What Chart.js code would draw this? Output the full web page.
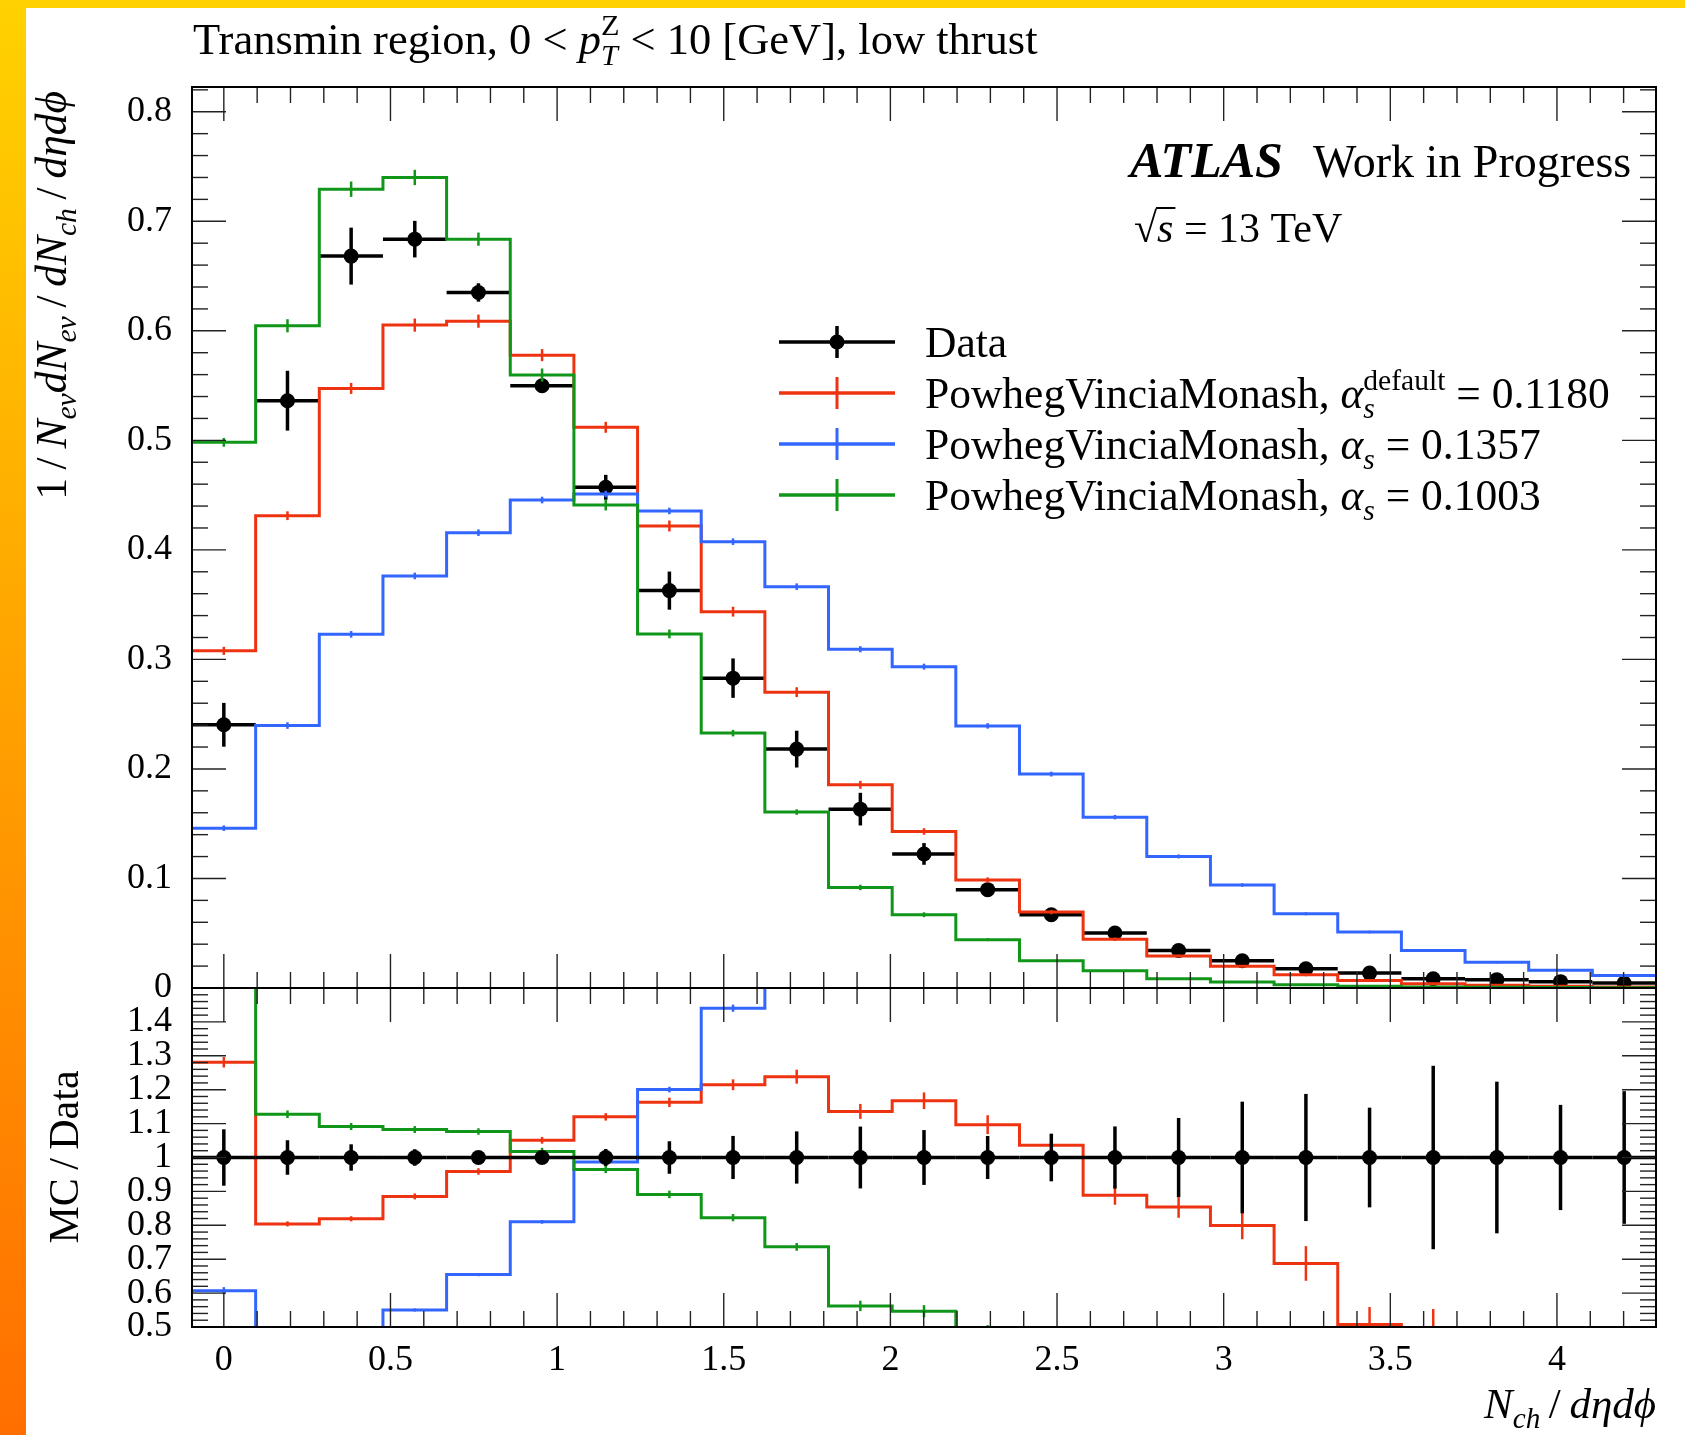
<!DOCTYPE html>
<html>
<head>
<meta charset="utf-8">
<title>Transmin region, low thrust</title>
<script src="https://cdn.jsdelivr.net/npm/chart.js@4.4.1/dist/chart.umd.min.js"></script>
<style>
  html, body { margin: 0; padding: 0; background: #fff; }
  #page { position: relative; width: 1685px; height: 1435px; overflow: hidden; background: #fff; }
  #topBand { position: absolute; left: 0; top: 0; width: 1685px; height: 8px; background: #ffd200; }
  #sideBand { position: absolute; left: 0; top: 0; width: 26px; height: 1435px; background: linear-gradient(to bottom, #ffd200, #ff6f00); }
  #page canvas { position: absolute; left: 0; top: 0; }
</style>
</head>
<body>
<div id="page">
  <div id="topBand"></div>
  <div id="sideBand"></div>
  <canvas id="mainChart" width="1685" height="1435"></canvas>
  <canvas id="ratioChart" width="1685" height="1435"></canvas>
</div>
<script>
const FONT = '"Liberation Serif", "Times New Roman", serif';

// N_ch / (d eta d phi) in the trans-min region: one bin per 2 charged particles, area 5*pi/3
const binWidth = 3 / (5 * Math.PI);
const binEdges = Array.from({ length: 24 }, (_, i) => (i - 0.5) * binWidth);
const binCenters = Array.from({ length: 23 }, (_, i) => i * binWidth);

const dataVals = [0.2403, 0.5362, 0.6682, 0.6837, 0.6350, 0.5499, 0.4571, 0.3628, 0.2829, 0.2181, 0.1633, 0.1224,
  0.0898, 0.0669, 0.0502, 0.0343, 0.0249, 0.0176, 0.0136, 0.0085, 0.0076, 0.0058, 0.0046];
const dataErr = [0.0200, 0.0273, 0.0260, 0.0167, 0.0084, 0.0050, 0.0114, 0.0174, 0.0180, 0.0168, 0.0149, 0.0099,
  0.0057, 0.0047, 0.0046, 0.0040, 0.0041, 0.0033, 0.0020, 0.0023, 0.0017, 0.0009, 0.0009];

// PowhegVinciaMonash, alpha_s default = 0.1180
const redVals = [0.3078, 0.4312, 0.5474, 0.6052, 0.6088, 0.5778, 0.5119, 0.4218, 0.3436, 0.2701, 0.1855, 0.1429,
  0.0985, 0.0693, 0.0446, 0.0293, 0.0199, 0.0121, 0.0069, 0.0039, 0.0025, 0.0017, 0.0010];
const redErr = [0.0037, 0.0040, 0.0050, 0.0060, 0.0060, 0.0055, 0.0050, 0.0050, 0.0045, 0.0045, 0.0036, 0.0030,
  0.0025, 0.0020, 0.0014, 0.0011, 0.0010, 0.0009, 0.0007, 0.0008, 0.0005, 0.0004, 0.0003];

// alpha_s = 0.1357
const blueVals = [0.1459, 0.2396, 0.3229, 0.3762, 0.4157, 0.4455, 0.4510, 0.4355, 0.4075, 0.3664, 0.3093, 0.2934,
  0.2393, 0.1953, 0.1560, 0.1201, 0.0940, 0.0678, 0.0511, 0.0343, 0.0234, 0.0161, 0.0115];
const blueErr = [0.0025, 0.0030, 0.0030, 0.0030, 0.0030, 0.0030, 0.0030, 0.0030, 0.0030, 0.0030, 0.0028, 0.0027,
  0.0025, 0.0022, 0.0020, 0.0018, 0.0016, 0.0014, 0.0012, 0.0010, 0.0009, 0.0008, 0.0007];

// alpha_s = 0.1003
const greenVals = [0.4982, 0.6046, 0.7293, 0.7400, 0.6837, 0.5596, 0.4410, 0.3233, 0.2327, 0.1606, 0.0918, 0.0669,
  0.0441, 0.0249, 0.0158, 0.0085, 0.0055, 0.0030, 0.0015, 0.0010, 0.0007, 0.0005, 0.0003];
const greenErr = [0.0040, 0.0060, 0.0070, 0.0070, 0.0060, 0.0060, 0.0050, 0.0040, 0.0030, 0.0025, 0.0025, 0.0022,
  0.0013, 0.0008, 0.0006, 0.0004, 0.0003, 0.0002, 0.0002, 0.0001, 0.0001, 0.0001, 0.0001];

const alphaLabels = ['0.1180', '0.1357', '0.1003'];

const RED = '#ee3311';
const BLUE = '#3366ff';
const GREEN = '#109618';

// pixel frame of the two panels
const FRAME = { left: 192, right: 1656, top: 87, mid: 988, bottom: 1327 };
const PAGE_W = 1685;
const PAGE_H = 1435;

const mcSeries = [
  { vals: greenVals, errs: greenErr, color: GREEN },
  { vals: blueVals, errs: blueErr, color: BLUE },
  { vals: redVals, errs: redErr, color: RED }
];

function stepPoints(vals) {
  const pts = vals.map((v, i) => ({ x: binEdges[i], y: v }));
  pts.push({ x: binEdges[vals.length], y: vals[vals.length - 1] });
  return pts;
}

function histDataset(vals, color) {
  return {
    data: stepPoints(vals),
    borderColor: color,
    borderWidth: 3,
    stepped: 'before',
    pointRadius: 0,
    fill: false,
    clip: 0
  };
}

function toRatio(vals) {
  return vals.map((v, i) => v / dataVals[i]);
}

function line(ctx, x1, y1, x2, y2) {
  ctx.beginPath();
  ctx.moveTo(x1, y1);
  ctx.lineTo(x2, y2);
  ctx.stroke();
}

function clipToArea(ctx, a) {
  ctx.beginPath();
  ctx.rect(a.left, a.top, a.right - a.left, a.bottom - a.top);
  ctx.clip();
}

// ---- rich text (italics, sub/superscripts) ----
function fontStr(p, size) {
  return (p.i ? 'italic ' : '') + (p.b ? 'bold ' : '') + size.toFixed(1) + 'px ' + FONT;
}

function layoutRich(ctx, parts, size) {
  const ops = [];
  let x = 0;
  parts.forEach(p => {
    if (p.stack) {
      const s = size * 0.68;
      let w = 0;
      p.stack.forEach((q, k) => {
        ctx.font = fontStr(q, s);
        ops.push({ t: q.t, font: ctx.font, x, dy: k === 0 ? -size * 0.42 : size * 0.24 });
        w = Math.max(w, ctx.measureText(q.t).width);
      });
      x += w;
    } else {
      const s = p.pos ? size * 0.68 : size;
      const dy = p.pos === 'sub' ? size * 0.24 : p.pos === 'sup' ? -size * 0.42 : 0;
      ctx.font = fontStr(p, s);
      ops.push({ t: p.t, font: ctx.font, x, dy });
      x += ctx.measureText(p.t).width;
    }
  });
  return { ops, width: x };
}

function drawRich(ctx, parts, x, y, size, align) {
  const { ops, width } = layoutRich(ctx, parts, size);
  const x0 = align === 'right' ? x - width : align === 'center' ? x - width / 2 : x;
  ctx.textAlign = 'left';
  ctx.textBaseline = 'alphabetic';
  ops.forEach(o => {
    ctx.font = o.font;
    ctx.fillText(o.t, x0 + o.x, y + o.dy);
  });
  return width;
}

// ---- inward ticks on all four sides, plus the frame ----
function frameTicks(yStep, yMajorEvery) {
  return {
    id: 'frameTicks',
    afterDraw(chart) {
      const { ctx, chartArea: a, scales } = chart;
      ctx.save();
      ctx.strokeStyle = '#222';
      ctx.lineWidth = 1.4;
      const xs = scales.x;
      for (let i = Math.ceil(xs.min / 0.1 - 1e-6); i * 0.1 <= xs.max + 1e-6; i++) {
        const px = xs.getPixelForValue(i * 0.1);
        const len = i % 5 === 0 ? 34 : 16;
        line(ctx, px, a.top, px, a.top + len);
        line(ctx, px, a.bottom, px, a.bottom - len);
      }
      const ys = scales.y;
      for (let i = Math.ceil(ys.min / yStep - 1e-6); i * yStep <= ys.max + 1e-6; i++) {
        const py = ys.getPixelForValue(i * yStep);
        const len = i % yMajorEvery === 0 ? 34 : 16;
        line(ctx, a.left, py, a.left + len, py);
        line(ctx, a.right, py, a.right - len, py);
      }
      ctx.strokeStyle = '#000';
      ctx.lineWidth = 2;
      ctx.strokeRect(a.left, a.top, a.right - a.left, a.bottom - a.top);
      ctx.restore();
    }
  };
}

function drawDataPoint(ctx, x1, x2, xc, y, yLo, yHi) {
  line(ctx, x1, y, x2, y);
  line(ctx, xc, yLo, xc, yHi);
  ctx.beginPath();
  ctx.arc(xc, y, 7.5, 0, Math.PI * 2);
  ctx.fill();
}

// data drawn under the MC histograms in the main panel, MC error ticks on top
const mainMarks = {
  id: 'mainMarks',
  beforeDatasetsDraw(chart) {
    const { ctx, chartArea, scales: { x, y } } = chart;
    ctx.save();
    clipToArea(ctx, chartArea);
    ctx.strokeStyle = '#000';
    ctx.fillStyle = '#000';
    ctx.lineWidth = 3.5;
    dataVals.forEach((v, i) => {
      drawDataPoint(ctx, x.getPixelForValue(binEdges[i]), x.getPixelForValue(binEdges[i + 1]),
        x.getPixelForValue(binCenters[i]), y.getPixelForValue(v),
        y.getPixelForValue(v - dataErr[i]), y.getPixelForValue(v + dataErr[i]));
    });
    ctx.restore();
  },
  afterDatasetsDraw(chart) {
    const { ctx, chartArea, scales: { x, y } } = chart;
    ctx.save();
    clipToArea(ctx, chartArea);
    ctx.lineWidth = 2.5;
    mcSeries.slice().reverse().forEach(s => {
      ctx.strokeStyle = s.color;
      s.vals.forEach((v, i) => {
        const px = x.getPixelForValue(binCenters[i]);
        line(ctx, px, y.getPixelForValue(v - s.errs[i]), px, y.getPixelForValue(v + s.errs[i]));
      });
    });
    ctx.restore();
  }
};

const ratioMarks = {
  id: 'ratioMarks',
  afterDatasetsDraw(chart) {
    const { ctx, chartArea, scales: { x, y } } = chart;
    ctx.save();
    clipToArea(ctx, chartArea);
    ctx.lineWidth = 2.5;
    mcSeries.slice().reverse().forEach(s => {
      ctx.strokeStyle = s.color;
      s.vals.forEach((v, i) => {
        const r = v / dataVals[i];
        const e = s.errs[i] / dataVals[i];
        const px = x.getPixelForValue(binCenters[i]);
        line(ctx, px, y.getPixelForValue(r - e), px, y.getPixelForValue(r + e));
      });
    });
    ctx.strokeStyle = '#000';
    ctx.fillStyle = '#000';
    ctx.lineWidth = 3.5;
    dataVals.forEach((v, i) => {
      const e = dataErr[i] / v;
      drawDataPoint(ctx, x.getPixelForValue(binEdges[i]), x.getPixelForValue(binEdges[i + 1]),
        x.getPixelForValue(binCenters[i]), y.getPixelForValue(1),
        y.getPixelForValue(1 - e), y.getPixelForValue(1 + e));
    });
    ctx.restore();
  }
};

// ---- titles, labels and legend ----
const legendRows = [
  { color: '#000', isData: true, parts: [{ t: 'Data' }] },
  { color: RED, parts: [{ t: 'PowhegVinciaMonash, ' }, { t: 'α', i: 1 },
    { stack: [{ t: 'default' }, { t: 's', i: 1 }] }, { t: ' = ' + alphaLabels[0] }] },
  { color: BLUE, parts: [{ t: 'PowhegVinciaMonash, ' }, { t: 'α', i: 1 }, { t: 's', i: 1, pos: 'sub' },
    { t: ' = ' + alphaLabels[1] }] },
  { color: GREEN, parts: [{ t: 'PowhegVinciaMonash, ' }, { t: 'α', i: 1 }, { t: 's', i: 1, pos: 'sub' },
    { t: ' = ' + alphaLabels[2] }] }
];

const mainText = {
  id: 'mainText',
  afterDraw(chart) {
    const ctx = chart.ctx;
    ctx.save();
    ctx.fillStyle = '#000';

    drawRich(ctx, [{ t: 'Transmin region, 0 < ' }, { t: 'p', i: 1 },
      { stack: [{ t: 'Z' }, { t: 'T', i: 1 }] }, { t: ' < 10 [GeV], low thrust' }], 193, 54, 44.5, 'left');

    drawRich(ctx, [{ t: 'ATLAS', b: 1, i: 1 }], 1130, 177, 50, 'left');
    drawRich(ctx, [{ t: 'Work in Progress' }], 1313, 177, 46, 'left');

    // sqrt(s) = 13 TeV
    ctx.font = fontStr({}, 42);
    ctx.textAlign = 'left';
    ctx.textBaseline = 'alphabetic';
    const rootW = ctx.measureText('√').width;
    ctx.fillText('√', 1134, 242);
    ctx.font = fontStr({ i: 1 }, 42);
    const sW = ctx.measureText('s').width;
    ctx.fillText('s', 1134 + rootW, 242);
    ctx.strokeStyle = '#000';
    ctx.lineWidth = 2;
    line(ctx, 1134 + rootW - 1, 242 - 34, 1134 + rootW + sW + 2, 242 - 34);
    ctx.font = fontStr({}, 42);
    ctx.fillText(' = 13 TeV', 1134 + rootW + sW, 242);

    // legend
    legendRows.forEach((row, k) => {
      const ly = 342 + k * 51;
      ctx.strokeStyle = row.color;
      ctx.fillStyle = row.color;
      ctx.lineWidth = 3.5;
      line(ctx, 779, ly, 895, ly);
      ctx.lineWidth = row.isData ? 3.5 : 3;
      line(ctx, 837, ly - 16, 837, ly + 16);
      if (row.isData) {
        ctx.beginPath();
        ctx.arc(837, ly, 7.5, 0, Math.PI * 2);
        ctx.fill();
      }
      ctx.fillStyle = '#000';
      drawRich(ctx, row.parts, 925, ly + 15, 43.5, 'left');
    });

    // y-axis title, rotated
    ctx.translate(66, 91);
    ctx.rotate(-Math.PI / 2);
    drawRich(ctx, [{ t: '1\u2009/\u2009' }, { t: 'N', i: 1 }, { t: 'ev', i: 1, pos: 'sub' }, { t: 'dN', i: 1 },
      { t: 'ev', i: 1, pos: 'sub' }, { t: '\u2009/\u2009' }, { t: 'dN', i: 1 }, { t: 'ch', i: 1, pos: 'sub' },
      { t: '\u2009/\u2009' }, { t: 'dηdϕ', i: 1 }], 0, 0, 43.5, 'right');
    ctx.restore();
  }
};

const ratioText = {
  id: 'ratioText',
  afterDraw(chart) {
    const ctx = chart.ctx;
    ctx.save();
    ctx.fillStyle = '#000';
    drawRich(ctx, [{ t: 'N', i: 1 }, { t: 'ch', i: 1, pos: 'sub' }, { t: '\u2009/\u2009' }, { t: 'dηdϕ', i: 1 }],
      FRAME.right, 1418, 43, 'right');
    ctx.translate(78, 1157);
    ctx.rotate(-Math.PI / 2);
    drawRich(ctx, [{ t: 'MC\u2009/\u2009Data' }], 0, 0, 42, 'center');
    ctx.restore();
  }
};

const tickFont = { family: FONT, size: 36 };

function yAxis(min, max, labelFn) {
  return {
    type: 'linear',
    min, max,
    grid: { display: false, drawTicks: false },
    border: { display: false },
    ticks: { stepSize: 0.1, includeBounds: false, autoSkip: false, padding: 20, color: '#000',
      font: tickFont, callback: labelFn },
    afterFit: s => { s.width = FRAME.left; }
  };
}

new Chart(document.getElementById('mainChart'), {
  type: 'line',
  data: { datasets: mcSeries.map(s => histDataset(s.vals, s.color)) },
  options: {
    responsive: false,
    devicePixelRatio: 1,
    animation: false,
    layout: { padding: { left: 0, right: PAGE_W - FRAME.right, top: FRAME.top, bottom: PAGE_H - FRAME.mid } },
    plugins: { legend: { display: false }, tooltip: { enabled: false } },
    scales: {
      x: { type: 'linear', min: binEdges[0], max: binEdges[23], display: false },
      y: yAxis(0, 0.8226, v => (Math.abs(v) < 1e-9 ? '0' : v.toFixed(1)))
    }
  },
  plugins: [mainMarks, frameTicks(0.02, 5), mainText]
});

new Chart(document.getElementById('ratioChart'), {
  type: 'line',
  data: { datasets: mcSeries.map(s => histDataset(toRatio(s.vals), s.color)) },
  options: {
    responsive: false,
    devicePixelRatio: 1,
    animation: false,
    layout: { padding: { left: 0, right: PAGE_W - FRAME.right, top: FRAME.mid, bottom: 0 } },
    plugins: { legend: { display: false }, tooltip: { enabled: false } },
    scales: {
      x: {
        type: 'linear',
        min: binEdges[0],
        max: binEdges[23],
        grid: { display: false, drawTicks: false },
        border: { display: false },
        ticks: { stepSize: 0.5, includeBounds: false, padding: 12, maxRotation: 0, autoSkip: false,
          color: '#000', font: tickFont, callback: v => String(v) },
        afterFit: s => { s.height = PAGE_H - FRAME.bottom; }
      },
      y: yAxis(0.5, 1.5, v => (v > 1.45 ? '' : Math.abs(v - 1) < 1e-9 ? '1' : v.toFixed(1)))
    }
  },
  plugins: [ratioMarks, frameTicks(0.02, 5), ratioText]
});
</script>
</body>
</html>
